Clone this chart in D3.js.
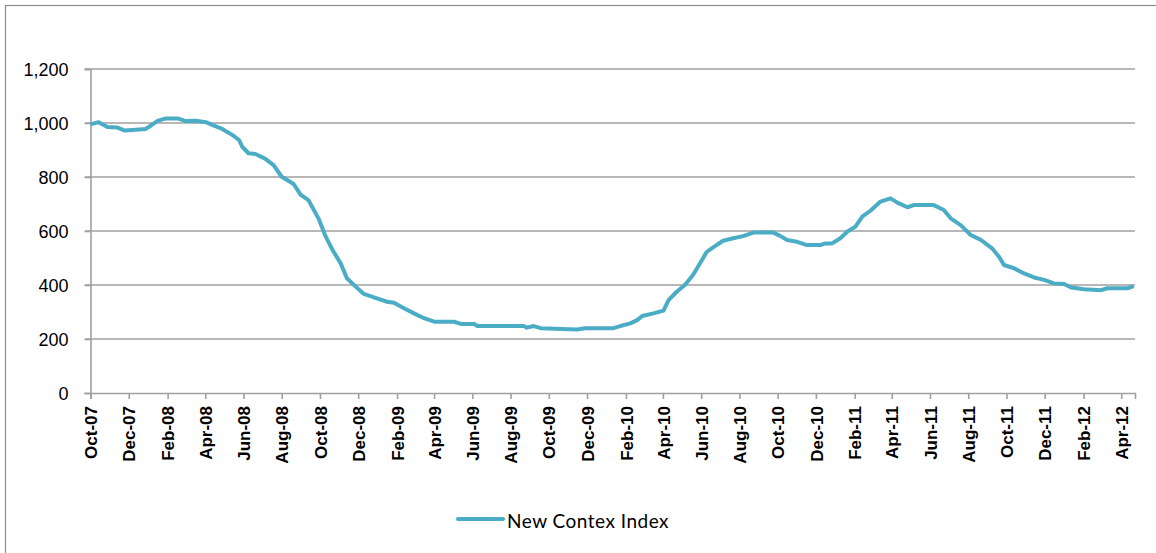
<!DOCTYPE html>
<html>
<head>
<meta charset="utf-8">
<script src="https://cdn.jsdelivr.net/npm/d3@7"></script>
<style>
  body { margin: 0; background: #fff; }
  svg { display: block; font-family: Lato, "Open Sans", sans-serif; }
</style>
</head>
<body>
<svg id="chart" width="1156" height="553"></svg>
<script>
// readings of the index off the reference picture
var dates = ['2007-10-01','2007-10-14','2007-10-28','2007-11-13','2007-11-25','2007-12-07','2007-12-28',
  '2008-01-05','2008-01-16','2008-01-29','2008-02-17','2008-03-01','2008-03-17','2008-04-02','2008-04-12',
  '2008-04-28','2008-05-14','2008-05-25','2008-05-30','2008-06-09','2008-06-20','2008-07-06','2008-07-19',
  '2008-08-01','2008-08-20','2008-08-31','2008-09-13','2008-09-29','2008-10-10','2008-10-21','2008-11-03',
  '2008-11-13','2008-11-27','2008-12-10','2008-12-26','2009-01-16','2009-01-27','2009-02-12','2009-02-28',
  '2009-03-16','2009-04-01','2009-05-03','2009-05-14','2009-06-04','2009-06-09','2009-08-22','2009-08-27',
  '2009-09-07','2009-09-18','2009-11-15','2009-11-28','2010-01-12','2010-01-23','2010-02-08','2010-02-19',
  '2010-02-27','2010-03-17','2010-04-02','2010-04-10','2010-04-23','2010-05-06','2010-05-19','2010-05-30',
  '2010-06-10','2010-06-23','2010-07-06','2010-07-22','2010-08-07','2010-08-23','2010-09-24','2010-10-05',
  '2010-10-16','2010-11-01','2010-11-17','2010-12-08','2010-12-16','2010-12-27','2011-01-09','2011-01-20',
  '2011-02-02','2011-02-13','2011-02-26','2011-03-14','2011-03-30','2011-04-10','2011-04-26','2011-05-06',
  '2011-06-07','2011-06-23','2011-07-04','2011-07-20','2011-08-05','2011-08-21','2011-09-08','2011-09-19',
  '2011-09-27','2011-10-13','2011-10-26','2011-11-14','2011-11-30','2011-12-16','2012-01-01','2012-01-12',
  '2012-02-02','2012-02-29','2012-03-10','2012-04-11','2012-04-21']

var values = [995,1003,985,983,972,974,978,
  990,1008,1017,1017,1007,1008,1003,993,
  978,956,937,912,888,885,867,844,
  801,774,735,713,645,580,530,480,
  425,394,367,354,338,334,314,295,
  277,264,264,256,256,248,248,242,
  248,240,235,240,240,248,258,270,
  285,295,305,344,375,400,437,480,
  523,544,564,573,581,594,594,582,
  567,560,548,548,554,554,573,597,
  616,653,675,709,721,705,688,696,
  696,678,647,622,585,567,536,505,
  474,462,446,428,419,406,404,391,
  384,381,388,388,396]

var yTicks = [0, 200, 400, 600, 800, 1000, 1200]
var xTickLabels = ['Oct-07','Dec-07','Feb-08','Apr-08','Jun-08','Aug-08','Oct-08','Dec-08',
  'Feb-09','Apr-09','Jun-09','Aug-09','Oct-09','Dec-09','Feb-10','Apr-10','Jun-10','Aug-10',
  'Oct-10','Dec-10','Feb-11','Apr-11','Jun-11','Aug-11','Oct-11','Dec-11','Feb-12','Apr-12']
var seriesName = 'New Contex Index'

var LINE_COLOR = '#4bacc6',
    GRID_COLOR = '#a0a0a0',
    TEXT_COLOR = '#000'

var parse = d3.timeParse('%Y-%m-%d')
var data = dates.map(function(d, i){ return {date: parse(d), value: values[i]} })

var svg = d3.select('#chart')

// outer chart border (only left and top show in the frame)
svg.append('rect')
  .attr('x', 5.5).attr('y', 5.5)
  .attr('width', 1160).attr('height', 560)
  .attr('fill', 'none')
  .attr('stroke', '#8c8c8c')
  .attr('stroke-width', 1.2)

var x = d3.scaleTime()
  .domain([parse('2007-10-01'), parse('2012-04-23')])
  .range([90.5, 1135])

var y = d3.scaleLinear()
  .domain([0, 1200])
  .range([393, 69])

// gridlines
svg.append('g')
  .selectAll('line')
  .data(yTicks.filter(function(d){ return d > 0 }))
  .enter().append('line')
    .attr('x1', 85).attr('x2', 1135)
    .attr('y1', function(d){ return y(d) })
    .attr('y2', function(d){ return y(d) })
    .style('stroke', GRID_COLOR)
    .style('stroke-width', 1.6)

// y axis
var yAxis = svg.append('g')
  .attr('transform', 'translate(90.5,0)')
  .call(d3.axisLeft(y).tickValues(yTicks).tickSize(6).tickPadding(16).tickFormat(d3.format(',')))
yAxis.select('.domain').attr('stroke', GRID_COLOR).attr('stroke-width', 1.6)
yAxis.selectAll('.tick line').attr('stroke', GRID_COLOR).attr('stroke-width', 1.6)
yAxis.selectAll('text')
  .attr('fill', TEXT_COLOR)
  .style('font-size', '18px')
  .attr('dy', '0.36em')

// x axis
var tickDates = xTickLabels.map(function(d){ return d3.timeParse('%b-%y')(d) })
var xAxis = svg.append('g')
  .attr('transform', 'translate(0,393)')
  .call(d3.axisBottom(x).tickValues(tickDates).tickSize(6).tickFormat(d3.timeFormat('%b-%y')))
xAxis.select('.domain').attr('stroke', GRID_COLOR).attr('stroke-width', 1.6)
xAxis.selectAll('.tick line').attr('stroke', GRID_COLOR).attr('stroke-width', 1.6)
xAxis.selectAll('text')
  .attr('fill', TEXT_COLOR)
  .style('font-size', '17px')
  .style('font-weight', 'bold')
  .attr('text-anchor', 'end')
  .attr('transform', 'rotate(-90)')
  .attr('x', -13)
  .attr('y', 0)
  .attr('dy', '0.36em')

// series line
var line = d3.line()
  .x(function(d){ return x(d.date) })
  .y(function(d){ return y(d.value) })

svg.append('path')
  .datum(data)
  .attr('d', line)
  .attr('fill', 'none')
  .attr('stroke', LINE_COLOR)
  .attr('stroke-width', 4)
  .attr('stroke-linejoin', 'round')

// legend
var legend = svg.append('g').attr('transform', 'translate(458,519)')
legend.append('line')
  .attr('x1', 0).attr('x2', 45)
  .attr('stroke', LINE_COLOR)
  .attr('stroke-width', 4)
  .attr('stroke-linecap', 'round')
legend.append('text')
  .attr('x', 49)
  .attr('y', 9)
  .attr('fill', TEXT_COLOR)
  .style('font-size', '19px')
  .style('letter-spacing', '0.5px')
  .text(seriesName)
</script>
</body>
</html>
